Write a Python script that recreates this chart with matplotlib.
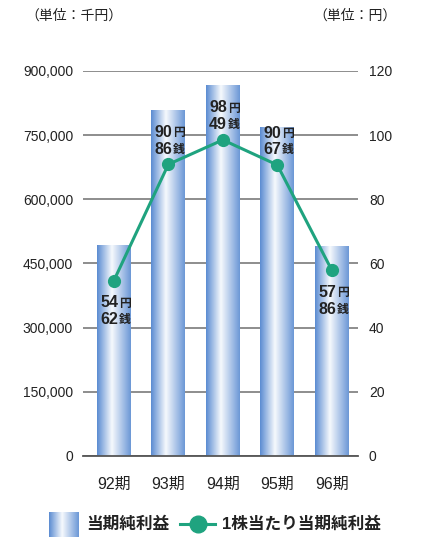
import numpy as np
import matplotlib.pyplot as plt
from matplotlib.colors import LinearSegmentedColormap
from matplotlib.lines import Line2D

plt.rcParams['font.family'] = ['Liberation Sans', 'Noto Sans CJK JP']

# 業績データ
periods = ['92期', '93期', '94期', '95期', '96期']
net_income = [493000, 808000, 867000, 767000, 489000]      # 千円
eps_yen = [54, 90, 98, 90, 57]
eps_sen = [62, 86, 49, 67, 86]
eps = [y + s / 100 for y, s in zip(eps_yen, eps_sen)]      # 円

left_ticks = [0, 150000, 300000, 450000, 600000, 750000, 900000]
right_ticks = [0, 20, 40, 60, 80, 100, 120]

bar_cmap = LinearSegmentedColormap.from_list(
    'bar', [(0.0, '#5a8bd1'), (0.44, '#f6f9fd'), (1.0, '#6b97d6')])
grad = np.linspace(0, 1, 256).reshape(1, -1)
line_color = '#1fa37f'

fig = plt.figure(figsize=(4.27, 5.37), dpi=100)
ax = fig.add_axes([0.194, 0.151, 0.644, 0.717])

x = np.arange(len(periods))
width = 0.62
xlim = (-0.569, 4.477)

for xi, v in zip(x, net_income):
    ax.imshow(grad, cmap=bar_cmap, aspect='auto', zorder=2,
              extent=[xi - width / 2, xi + width / 2, 0, v])

ax.set_xlim(*xlim)
ax.set_ylim(0, 900000)
ax.set_yticks(left_ticks)
ax.set_yticklabels([f'{t:,}' for t in left_ticks], fontsize=10, color='#222222')
ax.set_xticks(x)
ax.set_xticklabels(periods, fontsize=11.5, color='#222222')
ax.tick_params(length=0, pad=7)
ax.tick_params(axis='x', pad=15)
for s in ['top', 'left', 'right']:
    ax.spines[s].set_visible(False)
ax.spines['bottom'].set_color('#555555')
ax.spines['bottom'].set_linewidth(1.3)
ax.spines['bottom'].set_zorder(3)
ax.grid(axis='y', color='#7a7a7a', linewidth=1.2, zorder=0)
ax.set_axisbelow(True)

ax2 = ax.twinx()
ax2.set_ylim(0, 120)
ax2.set_yticks(right_ticks)
ax2.set_yticklabels([str(t) for t in right_ticks], fontsize=10, color='#222222')
ax2.tick_params(length=0, pad=8)
for s in ['top', 'left', 'right', 'bottom']:
    ax2.spines[s].set_visible(False)

ax2.plot(x, eps, color=line_color, linewidth=2.2, marker='o',
         markersize=8.5, zorder=5)

# 1株当たり利益のラベル（円・銭）
below = [True, False, False, False, True]
for xi, y, yen, sen, b in zip(x, eps, eps_yen, eps_sen, below):
    rows = [(yen, '円'), (sen, '銭')]
    offs = [-16, -28] if b else [23, 11]
    for (num, unit), dy in zip(rows, offs):
        ax2.annotate(f'{num}', (xi, y), xytext=(3, dy), textcoords='offset points',
                     ha='right', va='center', fontsize=11.5, fontweight='bold',
                     color='#222222', zorder=6)
        ax2.annotate(unit, (xi, y), xytext=(3.5, dy - 0.5), textcoords='offset points',
                     ha='left', va='center', fontsize=8.5, fontweight='bold',
                     color='#222222', zorder=6)

fig.text(25 / 427, 1 - 16 / 537, '（単位：千円）', fontsize=10, va='center',
         ha='left', color='#222222')
fig.text(397 / 427, 1 - 16 / 537, '（単位：円）', fontsize=10, va='center',
         ha='right', color='#222222')

# 凡例
lax = fig.add_axes([49 / 427, 0, 30 / 427, 25 / 537])
lax.imshow(grad, cmap=bar_cmap, aspect='auto')
lax.axis('off')
fig.text(86 / 427, 1 - 524 / 537, '当期純利益', fontsize=12, va='center',
         ha='left', color='#222222', fontweight='bold')
fig.add_artist(Line2D([180 / 427, 215 / 427], [1 - 524 / 537] * 2,
                      color=line_color, linewidth=2.2))
fig.add_artist(Line2D([198 / 427], [1 - 524 / 537], color=line_color,
                      marker='o', markersize=12))
fig.text(222 / 427, 1 - 524 / 537, '1株当たり当期純利益', fontsize=12, va='center',
         ha='left', color='#222222', fontweight='bold')

fig.savefig('out.png', dpi=100)
